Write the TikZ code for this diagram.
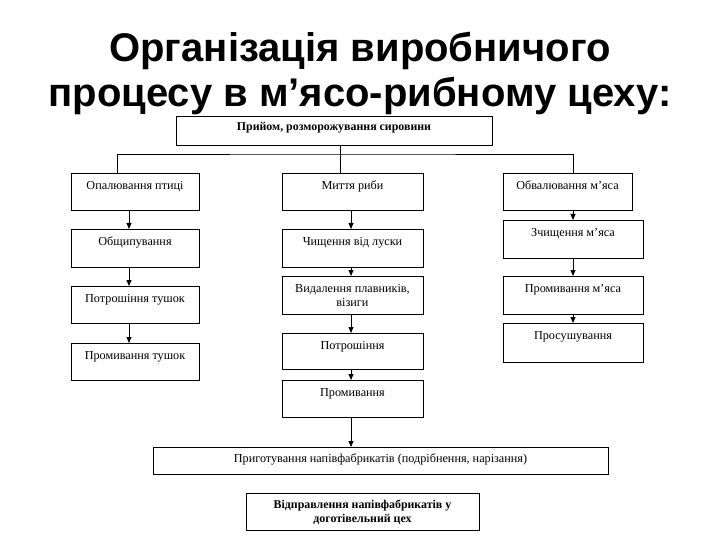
\documentclass[tikz,border=0pt]{standalone}
\usepackage{fontspec}
\setmainfont{Liberation Serif}
\newfontfamily\titlefont{Liberation Sans}
\usetikzlibrary{arrows.meta}
\newcommand{\boxfont}{\fontsize{12.2}{14}\selectfont}
\newcommand{\boldboxfont}{\fontsize{11.9}{14}\selectfont\bfseries}
\begin{document}
\begin{tikzpicture}[x=1pt,y=-1pt,
  box/.style={draw, line width=0.8pt, inner sep=0pt, anchor=north, font=\boxfont, align=center},
  tb/.style={text height=16pt, text depth=#1},
  arr/.style={-{Triangle[length=6pt,width=5pt]}, line width=0.8pt},
  ln/.style={line width=0.8pt}]
\useasboundingbox[fill=white] (0,0) rectangle (720,540);
% title
\node[font=\titlefont\bfseries\fontsize{40}{45}\selectfont, align=center] (title) at (360,73)
  {Організація виробничого\\процесу в м’ясо-рибному цеху:};
% top box
\node[box, font=\boldboxfont, minimum width=316pt, text height=14pt, text depth=15pt] (T) at (334,116) {Прийом, розморожування сировини};
% left column
\node[box, minimum width=128pt, tb=21pt] (L1) at (135,173) {Опалювання птиці};
\node[box, minimum width=128pt, tb=22pt] (L2) at (135,229) {Общипування};
\node[box, minimum width=128pt, tb=21pt] (L3) at (135,286) {Потрошіння тушок};
\node[box, minimum width=128pt, tb=21pt] (L4) at (135,343) {Промивання тушок};
% middle column
\node[box, minimum width=141pt, tb=21pt] (M1) at (352.5,173) {Миття риби};
\node[box, minimum width=141pt, tb=22pt] (M2) at (352.5,229) {Чищення від луски};
\node[box, minimum width=141pt, minimum height=38pt] (M3) at (352.5,276) {Видалення плавників,\\візиги};
\node[box, minimum width=141pt, tb=20pt] (M4) at (352.5,333) {Потрошіння};
\node[box, minimum width=141pt, tb=21pt] (M5) at (352.5,380) {Промивання};
% right column
\node[box, minimum width=129pt, tb=21pt] (R1) at (567.5,173) {Обвалювання м’яса};
\node[box, minimum width=140pt, tb=22pt] (R2) at (573,220) {Зчищення м’яса};
\node[box, minimum width=140pt, tb=22pt] (R3) at (573,276) {Промивання м’яса};
\node[box, minimum width=140pt, tb=23pt] (R4) at (573,323) {Просушування};
% bottom
\node[box, minimum width=455pt, text height=15pt, text depth=12pt] (B) at (380.5,447) {Приготування напівфабрикатів (подрібнення, нарізання)};
\node[box, font=\boldboxfont, minimum width=233pt, minimum height=37pt] (F) at (362.5,493) {Відправлення напівфабрикатів у\\доготівельний цех};
% connectors
\coordinate (hb) at (340,154);
\draw[ln] ([xshift=6pt]T.south) -- ([xshift=6pt]T.south |- M1.north);
\draw[ln] ([xshift=-18pt]L1.north) |- (hb) -| ([xshift=5.5pt]R1.north);
\draw[arr] ([xshift=-6pt]L1.south) -- ([xshift=-6pt]L2.north);
\draw[arr] ([xshift=-6pt]L2.south) -- ([xshift=-6pt]L3.north);
\draw[arr] ([xshift=-6pt]L3.south) -- ([xshift=-6pt]L4.north);
\draw[arr] ([xshift=-1.5pt]M1.south) -- ([xshift=-1.5pt]M2.north);
\draw[arr] ([xshift=-1.5pt]M2.south) -- ([xshift=-1.5pt]M3.north);
\draw[arr] ([xshift=-1.5pt]M3.south) -- ([xshift=-1.5pt]M4.north);
\draw[arr] ([xshift=-1.5pt]M4.south) -- ([xshift=-1.5pt]M5.north);
\draw[arr] ([xshift=-1.5pt]M5.south) -- ([xshift=-1.5pt]M5.south |- B.north);
\draw[arr] (R2.north |- R1.south) -- (R2.north);
\draw[arr] (R2.south) -- (R3.north);
\draw[arr] (R3.south) -- (R4.north);
\end{tikzpicture}
\end{document}
